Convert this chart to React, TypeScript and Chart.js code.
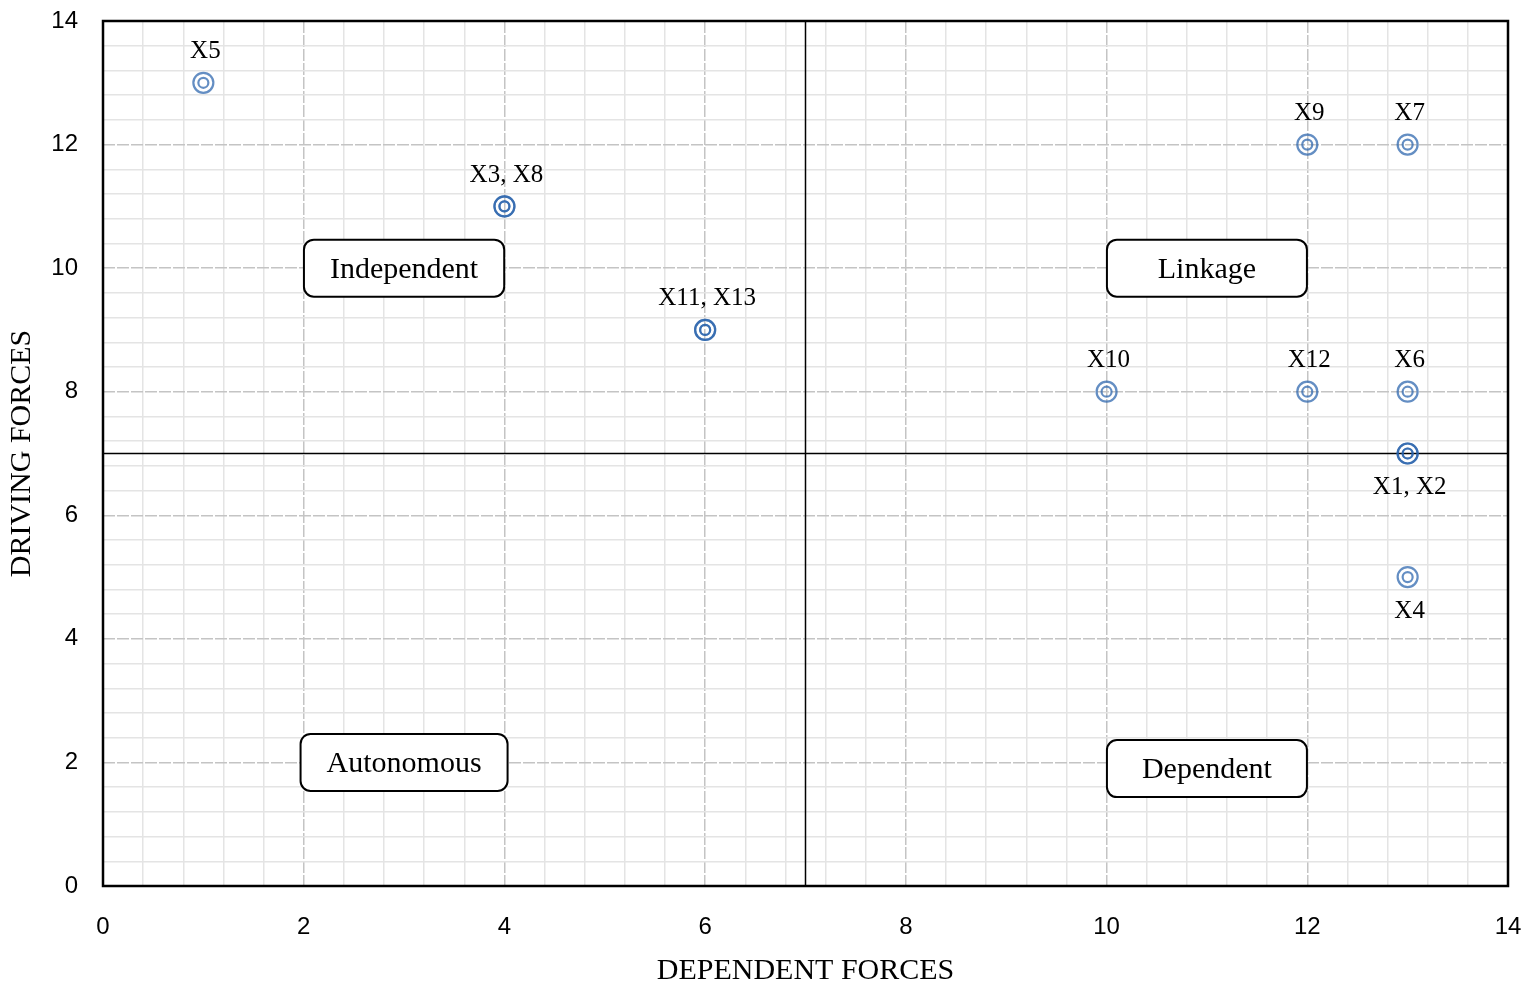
import React, { useEffect, useRef } from 'react';
import { Chart, registerables } from 'chart.js';

Chart.register(...registerables);

// ---- Data ----
const factorNames = ['X1', 'X2', 'X3', 'X4', 'X5', 'X6', 'X7', 'X8', 'X9', 'X10', 'X11', 'X12', 'X13'];
const dependencePower = [13, 13, 4, 13, 1, 13, 13, 4, 12, 10, 6, 12, 6];
const drivingPower = [7, 7, 11, 5, 13, 8, 12, 11, 12, 8, 9, 8, 9];
const labelsBelow = ['X1', 'X2', 'X4'];

const axisMin = 0;
const axisMax = 14;
const majorStep = 2;
const minorStep = 0.4;
const quadrantDivider = 7;

const quadrantNames = ['Independent', 'Linkage', 'Autonomous', 'Dependent'];
const quadrantX = [3, 11, 3, 11];
const quadrantY = [10, 10, 2, 1.9];

const xTitle = 'DEPENDENT FORCES';
const yTitle = 'DRIVING FORCES';

// ---- Styles ----
const SERIF = '"Liberation Serif", "Times New Roman", serif';
const SANS = '"Liberation Sans", Arial, sans-serif';
const MARKER = 'rgba(40, 98, 172, 0.72)';

const isMajor = (v: number) => Math.abs(v - Math.round(v / majorStep) * majorStep) < 1e-6;

const points = factorNames.map((_, i) => ({ x: dependencePower[i], y: drivingPower[i] }));

// group coinciding points for labels
const labelGroups: { x: number; y: number; names: string[] }[] = [];
factorNames.forEach((n, i) => {
  const g = labelGroups.find((q) => q.x === dependencePower[i] && q.y === drivingPower[i]);
  if (g) g.names.push(n);
  else labelGroups.push({ x: dependencePower[i], y: drivingPower[i], names: [n] });
});

function roundRectPath(ctx: CanvasRenderingContext2D, x: number, y: number, w: number, h: number, r: number) {
  ctx.beginPath();
  ctx.moveTo(x + r, y);
  ctx.lineTo(x + w - r, y);
  ctx.arcTo(x + w, y, x + w, y + r, r);
  ctx.lineTo(x + w, y + h - r);
  ctx.arcTo(x + w, y + h, x + w - r, y + h, r);
  ctx.lineTo(x + r, y + h);
  ctx.arcTo(x, y + h, x, y + h - r, r);
  ctx.lineTo(x, y + r);
  ctx.arcTo(x, y, x + r, y, r);
  ctx.closePath();
}

const overlayPlugin = {
  id: 'overlay',
  beforeDatasetsDraw(chart: any) {
    const { ctx, chartArea: a, scales } = chart;
    const xs = scales.x;
    const ys = scales.y;
    ctx.save();
    // quadrant dividers
    ctx.strokeStyle = '#000';
    ctx.lineWidth = 1.5;
    const px = xs.getPixelForValue(quadrantDivider);
    const py = ys.getPixelForValue(quadrantDivider);
    ctx.beginPath();
    ctx.moveTo(px, a.top);
    ctx.lineTo(px, a.bottom);
    ctx.moveTo(a.left, py);
    ctx.lineTo(a.right, py);
    ctx.stroke();
    // frame
    ctx.lineWidth = 2.5;
    ctx.strokeRect(a.left, a.top, a.right - a.left, a.bottom - a.top);
    // quadrant boxes
    ctx.font = `30px ${SERIF}`;
    ctx.textAlign = 'center';
    ctx.textBaseline = 'middle';
    quadrantNames.forEach((name, i) => {
      const cx = xs.getPixelForValue(quadrantX[i]);
      const cy = ys.getPixelForValue(quadrantY[i]);
      const w = Math.max(200, ctx.measureText(name).width + 52);
      const h = 57;
      roundRectPath(ctx, cx - w / 2, cy - h / 2, w, h, 10);
      ctx.fillStyle = '#fff';
      ctx.fill();
      ctx.lineWidth = 2;
      ctx.strokeStyle = '#000';
      ctx.stroke();
      ctx.fillStyle = '#000';
      ctx.fillText(name, cx, cy + 2);
    });
    ctx.restore();
  },
  afterDatasetsDraw(chart: any) {
    const { ctx, scales } = chart;
    ctx.save();
    ctx.font = `25px ${SERIF}`;
    ctx.fillStyle = '#000';
    ctx.textAlign = 'center';
    ctx.textBaseline = 'middle';
    labelGroups.forEach((g) => {
      const px = scales.x.getPixelForValue(g.x);
      const py = scales.y.getPixelForValue(g.y);
      const below = g.names.some((n) => labelsBelow.includes(n));
      ctx.fillText(g.names.join(', '), px + 2, below ? py + 34 : py - 31);
    });
    ctx.restore();
  },
};

function axisConfig(title: string, fixedSize: number, horizontal: boolean) {
  return {
    type: 'linear',
    min: axisMin,
    max: axisMax,
    ticks: {
      stepSize: minorStep,
      autoSkip: false,
      maxRotation: 0,
      padding: horizontal ? 27 : 25,
      color: '#000',
      font: { family: SANS, size: 24 },
      callback: (v: number) => (isMajor(v) ? String(Math.round(v)) : ''),
    },
    grid: {
      drawTicks: false,
      lineWidth: 1.5,
      color: (c: any) => (isMajor(c.tick?.value ?? 0) ? '#c4c4c4' : '#e4e4e4'),
    },
    border: {
      display: false,
      dash: (c: any) => (isMajor(c.tick?.value ?? 0) ? [12, 2] : []),
    },
    title: {
      display: true,
      text: title,
      color: '#000',
      font: { family: SERIF, size: 30, lineHeight: 1.2 },
      padding: horizontal ? { top: 0, bottom: 2 } : { top: 4, bottom: 0 },
    },
    afterFit: (scale: any) => {
      if (horizontal) {
        scale.height = fixedSize;
        scale.paddingLeft = 0;
        scale.paddingRight = 0;
      } else {
        scale.width = fixedSize;
        scale.paddingTop = 0;
        scale.paddingBottom = 0;
      }
    },
  };
}

export default function App() {
  const canvasRef = useRef<HTMLCanvasElement | null>(null);

  useEffect(() => {
    if (!canvasRef.current) return;
    const chart = new Chart(canvasRef.current, {
      type: 'scatter',
      data: {
        datasets: [
          {
            label: 'outer',
            data: points,
            pointStyle: 'circle',
            pointRadius: 10,
            pointHoverRadius: 10,
            borderWidth: 2.2,
            borderColor: MARKER,
            backgroundColor: 'rgba(0,0,0,0)',
          },
          {
            label: 'inner',
            data: points,
            pointStyle: 'circle',
            pointRadius: 5,
            pointHoverRadius: 5,
            borderWidth: 2.2,
            borderColor: MARKER,
            backgroundColor: 'rgba(0,0,0,0)',
          },
        ],
      },
      options: {
        animation: false,
        responsive: true,
        maintainAspectRatio: false,
        events: [],
        layout: { padding: { top: 21, right: 27, left: 0, bottom: 0 } },
        plugins: {
          legend: { display: false },
          tooltip: { enabled: false },
        },
        scales: {
          x: axisConfig(xTitle, 105, true),
          y: axisConfig(yTitle, 103, false),
        },
      } as any,
      plugins: [overlayPlugin],
    });
    return () => chart.destroy();
  }, []);

  return (
    <div style={{ position: 'absolute', left: 0, top: 0, width: 1535, height: 991, background: '#fff' }}>
      <canvas ref={canvasRef} />
    </div>
  );
}
